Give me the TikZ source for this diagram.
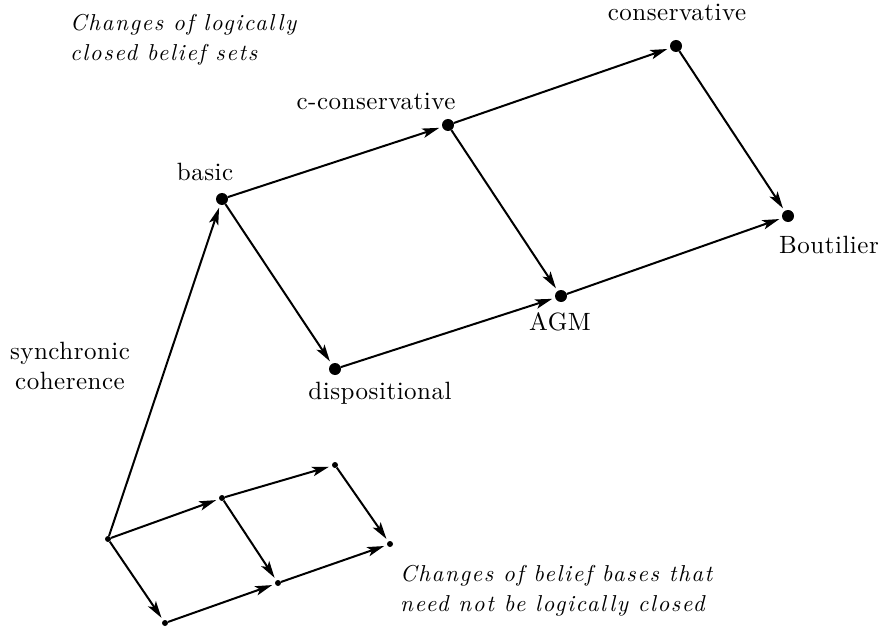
\documentclass[tikz,border=0pt]{standalone}
\usepackage{fontspec}
\setmainfont{lmroman10-regular}[Extension=.otf,ItalicFont=lmroman10-italic]
\usetikzlibrary{arrows.meta}
\begin{document}
\begin{tikzpicture}[x=1pt,y=-1pt,
  bigdot/.style={circle,fill=black,inner sep=0pt,minimum size=12pt},
  smalldot/.style={circle,fill=black,inner sep=0pt,minimum size=6pt},
  conn/.style={line width=2pt,-{Stealth[length=17pt,width=9.5pt,inset=4pt]},shorten >=3pt},
  lab/.style={font=\fontsize{25}{30}\selectfont\addfontfeatures{LetterSpace=2},inner sep=0pt},
  ital/.style={font=\fontsize{23}{30.5}\selectfont\itshape\addfontfeatures{LetterSpace=7},align=left,inner sep=0pt,anchor=north west}]
\useasboundingbox (0,0) rectangle (882,628);
% big diagram
\node[bigdot] (basic) at (222,199) {};
\node[bigdot] (ccons) at (448,125) {};
\node[bigdot] (cons) at (676,46) {};
\node[bigdot] (bout) at (788,216) {};
\node[bigdot] (agm) at (561,296) {};
\node[bigdot] (disp) at (335,369) {};
% small diagram
\node[smalldot] (r) at (108,539) {};
\node[smalldot] (um) at (222,498) {};
\node[smalldot] (ut) at (335,465) {};
\node[smalldot] (sr) at (390,544) {};
\node[smalldot] (lm) at (278,583) {};
\node[smalldot] (sb) at (165,623) {};
% labels
\node[lab] (lbasic) at (205,172) {basic};
\node[lab] (lccons) at (376,101) {c-conservative};
\node[lab] (lcons) at (677,12) {conservative};
\node[lab] (lbout) at (829,245) {Boutilier};
\node[lab] (lagm) at (560,322) {AGM};
\node[lab] (ldisp) at (380,393) {dispositional};
\node[lab,align=center] (lsync) at (70,366) {synchronic\\coherence};
\node[ital] (t1) at (70,14) {Changes of logically\\closed belief sets};
\node[ital] (t2) at (400,565) {Changes of belief bases that\\need not be logically closed};
% connectors
\draw[conn] (basic) -- (ccons);
\draw[conn] (ccons) -- (cons);
\draw[conn] (cons) -- (bout);
\draw[conn] (ccons) -- (agm);
\draw[conn] (basic) -- (disp);
\draw[conn] (disp) -- (agm);
\draw[conn] (agm) -- (bout);
\draw[conn] (r) -- (basic);
\draw[conn] (r) -- (um);
\draw[conn] (um) -- (ut);
\draw[conn] (ut) -- (sr);
\draw[conn] (um) -- (lm);
\draw[conn] (r) -- (sb);
\draw[conn] (sb) -- (lm);
\draw[conn] (lm) -- (sr);
\end{tikzpicture}
\end{document}
